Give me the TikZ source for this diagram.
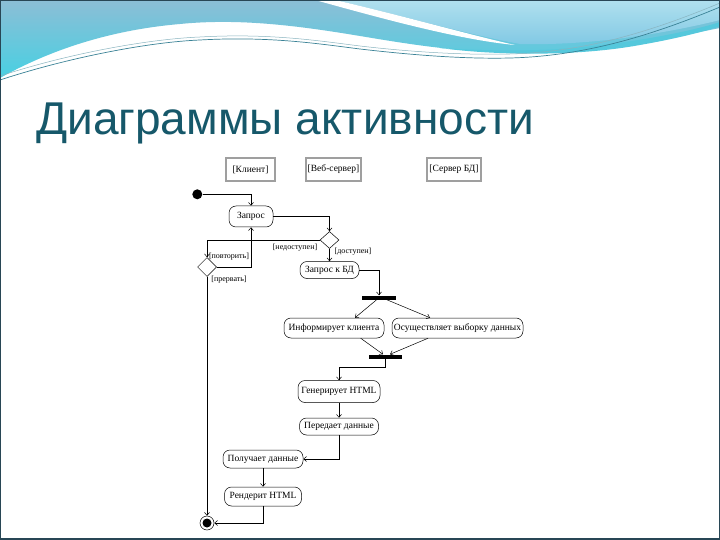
\documentclass[tikz,border=0pt]{standalone}
\usepackage{fontspec}
\setmainfont{Liberation Serif}
\newfontfamily\titlefont{Liberation Sans}
\usetikzlibrary{arrows.meta,shapes.geometric}
\definecolor{titlecol}{RGB}{22,88,106}
\definecolor{wavetop}{RGB}{140,190,214}
\definecolor{wavebot}{RGB}{72,208,226}
\definecolor{lighttop}{RGB}{176,224,238}
\definecolor{lightbot}{RGB}{128,200,228}
\definecolor{cyanband}{RGB}{85,200,220}
\definecolor{waveline}{RGB}{58,130,150}
\definecolor{framecol}{RGB}{40,70,85}
\begin{document}
\begin{tikzpicture}[x=1pt,y=-1pt,
  act/.style={draw,rounded corners=7pt,inner sep=1pt,font=\fontsize{9.5}{10}\selectfont,minimum height=19pt,line width=0.5pt,fill=white},
  lane/.style={draw=gray!75,line width=1.1pt,minimum height=23pt,inner sep=1pt,font=\fontsize{9.5}{10}\selectfont},
  dec/.style={draw,diamond,fill=white,minimum width=19pt,minimum height=17pt,inner sep=0pt,line width=0.5pt},
  bar/.style={fill=black,minimum width=34pt,minimum height=4pt,inner sep=0pt},
  flow/.style={-{Straight Barb[length=3pt,width=5pt]},line width=0.5pt},
  guard/.style={font=\fontsize{8}{9}\selectfont,inner sep=0pt},
  finalnode/.style={circle,draw,minimum size=14pt,inner sep=0pt,line width=0.5pt,
    path picture={\fill (path picture bounding box.center) circle (4.5pt);}}]
\useasboundingbox (0,0) rectangle (720,540);
% background
\fill[white] (0,0) rectangle (720,540);
% waves
\shade[top color=wavetop,bottom color=wavebot]
  (0,0) -- (720,0) -- (720,28) .. controls (660,40) and (600,50) .. (540,52)
  .. controls (470,54) and (420,46) .. (360,36)
  .. controls (300,26) and (240,18) .. (180,24)
  .. controls (110,30) and (50,50) .. (0,78) -- cycle;
\shade[top color=lighttop,bottom color=lightbot]
  (335,0) .. controls (400,15) and (470,35) .. (520,44)
  .. controls (600,46) and (680,30) .. (720,20) -- (720,0) -- cycle;
\fill[white] (335,0) .. controls (400,15) and (470,35) .. (515,45)
  .. controls (460,40) and (380,18) .. (315,0) -- cycle;
\fill[cyanband] (440,48) .. controls (500,56) and (580,56) .. (640,45)
  .. controls (680,38) and (710,30) .. (720,26) -- (720,22)
  .. controls (680,35) and (600,48) .. (540,50)
  .. controls (500,51) and (470,50) .. (440,48) -- cycle;
\draw[waveline,line width=0.7pt] (0,80) .. controls (70,57) and (150,42) .. (200,40)
  .. controls (270,36) and (320,44) .. (360,49)
  .. controls (420,56) and (470,59) .. (510,58)
  .. controls (590,56) and (660,32) .. (720,7);
\draw[waveline!60,line width=0.5pt] (0,76) .. controls (70,53) and (150,39) .. (200,37)
  .. controls (270,33) and (320,41) .. (360,46)
  .. controls (420,53) and (470,55) .. (510,54)
  .. controls (590,52) and (660,28) .. (720,3);
% frame
\draw[framecol,line width=1.2pt] (0.6,0.6) rectangle (719.4,539.4);
\draw[framecol,line width=2pt] (0,538.5) -- (720,538.5);
% title
\node[anchor=base west,font=\titlefont\fontsize{46}{50}\selectfont,text=titlecol,inner sep=0pt] (title) at (36,135) {Диаграммы активности};
% swimlane headers
\node[lane,minimum width=49pt] (lane1) at (250.5,169.5) {[Клиент]};
\node[lane,minimum width=55pt] (lane2) at (333.5,169.5) {[Веб-сервер]};
\node[lane,minimum width=54pt] (lane3) at (454,169.5) {[Сервер БД]};
% nodes
\node[circle,fill=black,minimum size=10pt,inner sep=0pt] (start) at (197.3,194.3) {};
\node[act,minimum width=44pt,minimum height=21pt] (zapros) at (251,216.5) {Запрос};
\node[dec] (d1) at (329.5,240) {};
\node[dec,minimum height=19pt] (d2) at (207,267) {};
\node[act,minimum width=59pt,minimum height=17pt] (zbd) at (329.5,270) {Запрос к БД};
\node[bar] (fork1) at (379,297.5) {};
\node[act,minimum width=100pt,minimum height=20pt] (inf) at (334,328) {Информирует клиента};
\node[act,minimum width=131pt,minimum height=20pt] (osu) at (457.5,328) {Осуществляет выборку данных};
\node[bar,minimum width=33pt] (join) at (385.5,356.5) {};
\node[act,minimum width=82pt,minimum height=22pt] (gen) at (339,391.5) {Генерирует HTML};
\node[act,minimum width=79pt,minimum height=17pt] (pered) at (339,426.5) {Передает данные};
\node[act,minimum width=80pt,minimum height=18pt] (poluch) at (263,459) {Получает данные};
\node[act,minimum width=77pt,minimum height=19pt] (rend) at (263,496.5) {Рендерит HTML};
\node[finalnode] (final) at (207,523) {};
% connectors
\draw[flow] (start.east) -| (zapros.north);
\draw[flow] (zapros.east) -| (d1.north);
\draw[flow] (d1.west) -| (d2.north);
\node[guard] (g1) at (295,247.5) {[недоступен]};
\draw[flow] (d1.south) -- (zbd.north);
\node[guard] (g2) at (353,252) {[доступен]};
\draw[flow] (d2.east) -| (zapros.south);
\node[guard] (g3) at (229,256.5) {[повторить]};
\draw[flow] (d2.south) -- (final.north);
\node[guard] (g4) at (229,280) {[прервать]};
\draw[flow] (zbd.east) -| (fork1.north);
\draw[flow] ([xshift=-2.3pt]fork1.south) -- ([xshift=21pt]inf.north);
\draw[flow] ([xshift=7.7pt]fork1.south) -- ([xshift=-27.5pt]osu.north);
\draw[flow] ([xshift=26.7pt]inf.south) -- ([xshift=-2.5pt]join.north);
\draw[flow] ([xshift=-29.5pt]osu.south) -- ([xshift=4.5pt]join.north);
\draw[flow] (join.south) -- ++(0,9) -| (gen.north);
\draw[flow] (gen) -- (pered);
\draw[flow] (pered.south) |- (poluch.east);
\draw[flow] (poluch) -- (rend);
\draw[flow] (rend.south) |- (final.east);
\end{tikzpicture}
\end{document}
